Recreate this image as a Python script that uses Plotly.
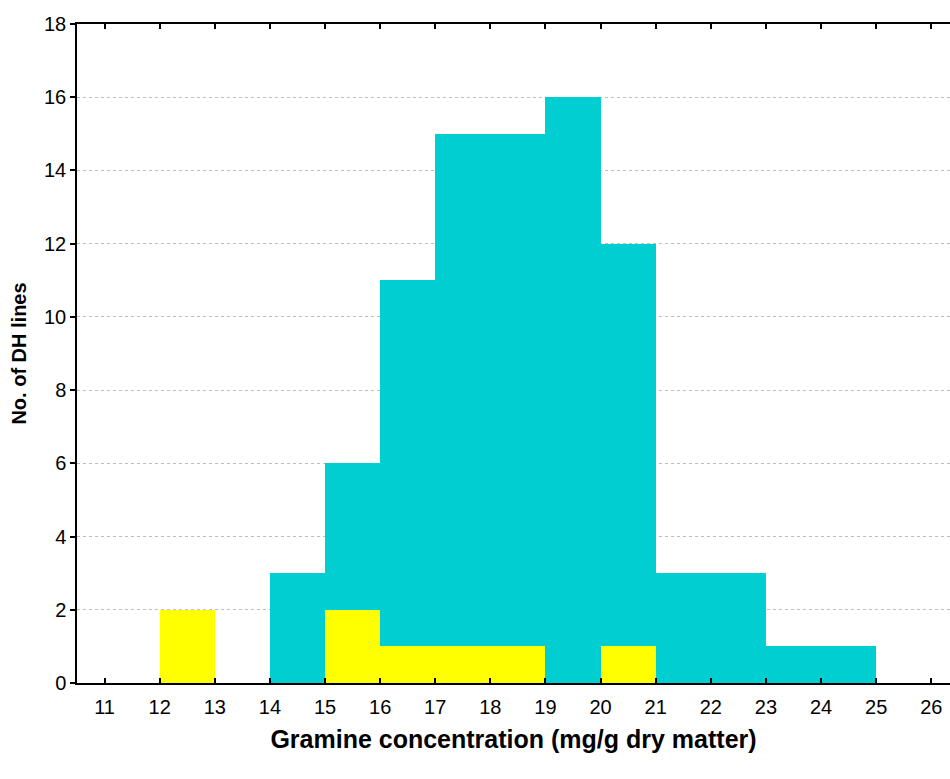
import plotly.graph_objects as go

bin_starts_all = [14, 15, 16, 17, 18, 19, 20, 21, 22, 23, 24]
counts_all = [3, 6, 11, 15, 15, 16, 12, 3, 3, 1, 1]

bin_starts_sub = [12, 15, 16, 17, 18, 20]
counts_sub = [2, 2, 1, 1, 1, 1]

x_ticks = list(range(11, 27))
y_ticks = list(range(0, 19, 2))

fig = go.Figure()
fig.add_trace(go.Bar(
    x=[b + 0.5 for b in bin_starts_all], y=counts_all, width=1,
    marker=dict(color="rgb(0,206,209)", line=dict(width=0)), showlegend=False))
fig.add_trace(go.Bar(
    x=[b + 0.5 for b in bin_starts_sub], y=counts_sub, width=1,
    marker=dict(color="rgb(255,255,0)", line=dict(width=0)), showlegend=False))

font = "Liberation Sans, Arial, sans-serif"
fig.update_layout(
    width=950, height=779,
    margin=dict(l=77, r=0, t=24, b=96),
    barmode="overlay", bargap=0,
    plot_bgcolor="white", paper_bgcolor="white",
    font=dict(family=font, size=20, color="black"),
    xaxis=dict(
        range=[10.5, 26.34], tickvals=x_ticks, ticktext=[str(t) for t in x_ticks],
        ticks="inside", ticklen=5, tickwidth=1.5, tickcolor="black",
        showline=True, linecolor="black", linewidth=1.5, mirror="ticks",
        showgrid=False, zeroline=False, ticklabelstandoff=5,
        tickfont=dict(size=20),
        title=dict(text="<b>Gramine concentration (mg/g dry matter)</b>",
                   font=dict(size=25), standoff=14),
    ),
    yaxis=dict(
        range=[0, 18], tickvals=y_ticks,
        ticks="outside", ticklen=5, tickwidth=1.5, tickcolor="black",
        showline=True, linecolor="black", linewidth=1.5,
        showgrid=True, gridcolor="rgb(190,190,190)", griddash="dot", gridwidth=1,
        zeroline=False, tickfont=dict(size=20),
        title=dict(text="<b>No. of DH lines</b>", font=dict(size=20), standoff=12),
    ),
)
fig.write_html("out.html")
